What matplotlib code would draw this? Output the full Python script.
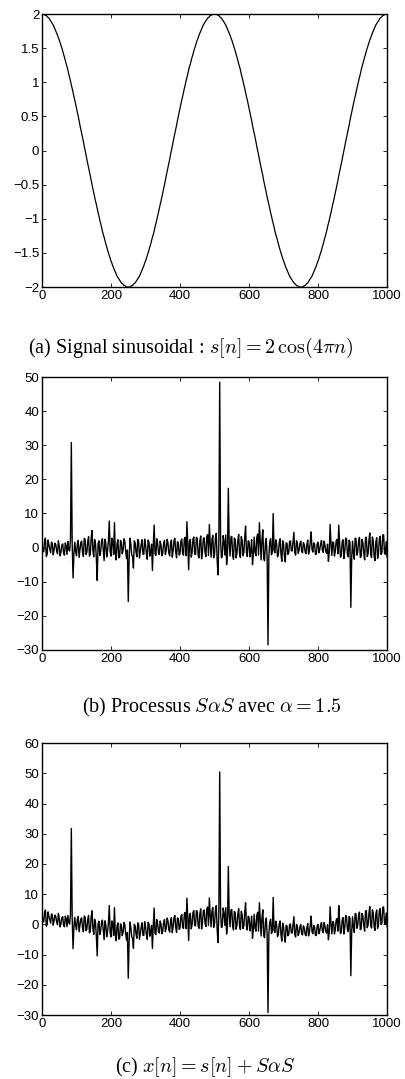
import numpy as np
import matplotlib.pyplot as plt

plt.rcParams['font.family'] = ['Liberation Sans', 'DejaVu Sans']
plt.rcParams['mathtext.fontset'] = 'cm'

# sample index: every 5th sample, plus the in-between samples at +2.5
n_main = np.arange(0, 1001, 5)
n_half = np.arange(2.5, 1000, 5)

# (a) sinusoid s[n] at n_main
s_main = [2.00, 2.00, 1.98, 1.96, 1.94, 1.90, 1.86, 1.81, 1.75, 1.69, 1.62, 1.54, 1.46, 1.37, 1.27, 1.18, 1.07,
          0.96, 0.85, 0.74, 0.62, 0.50, 0.37, 0.25, 0.13, 0.00, -0.13, -0.25, -0.37, -0.50, -0.62, -0.74,
          -0.85, -0.96, -1.07, -1.18, -1.27, -1.37, -1.46, -1.54, -1.62, -1.69, -1.75, -1.81, -1.86, -1.90,
          -1.94, -1.96, -1.98, -2.00, -2.00,
          -2.00, -1.98, -1.96, -1.94, -1.90, -1.86, -1.81, -1.75, -1.69, -1.62, -1.54, -1.46, -1.37, -1.27,
          -1.18, -1.07, -0.96, -0.85, -0.74, -0.62, -0.50, -0.37, -0.25, -0.13, 0.00, 0.13, 0.25, 0.37, 0.50,
          0.62, 0.74, 0.85, 0.96, 1.07, 1.18, 1.27, 1.37, 1.46, 1.54, 1.62, 1.69, 1.75, 1.81, 1.86, 1.90,
          1.94, 1.96, 1.98, 2.00, 2.00,
          2.00, 1.98, 1.96, 1.94, 1.90, 1.86, 1.81, 1.75, 1.69, 1.62, 1.54, 1.46, 1.37, 1.27, 1.18, 1.07,
          0.96, 0.85, 0.74, 0.62, 0.50, 0.37, 0.25, 0.13, 0.00, -0.13, -0.25, -0.37, -0.50, -0.62, -0.74,
          -0.85, -0.96, -1.07, -1.18, -1.27, -1.37, -1.46, -1.54, -1.62, -1.69, -1.75, -1.81, -1.86, -1.90,
          -1.94, -1.96, -1.98, -2.00, -2.00,
          -2.00, -1.98, -1.96, -1.94, -1.90, -1.86, -1.81, -1.75, -1.69, -1.62, -1.54, -1.46, -1.37, -1.27,
          -1.18, -1.07, -0.96, -0.85, -0.74, -0.62, -0.50, -0.37, -0.25, -0.13, 0.00, 0.13, 0.25, 0.37, 0.50,
          0.62, 0.74, 0.85, 0.96, 1.07, 1.18, 1.27, 1.37, 1.46, 1.54, 1.62, 1.69, 1.75, 1.81, 1.86, 1.90,
          1.94, 1.96, 1.98, 2.00, 2.00]

# s[n] at n_half
s_half = [2.00, 1.99, 1.98, 1.95, 1.92, 1.88, 1.84, 1.78, 1.72, 1.65, 1.58, 1.50, 1.41, 1.32, 1.23, 1.12,
          1.02, 0.91, 0.79, 0.68, 0.56, 0.44, 0.31, 0.19, 0.06,
          -0.06, -0.19, -0.31, -0.44, -0.56, -0.68, -0.79, -0.91, -1.02, -1.12, -1.23, -1.32, -1.41, -1.50,
          -1.58, -1.65, -1.72, -1.78, -1.84, -1.88, -1.92, -1.95, -1.98, -1.99, -2.00,
          -2.00, -1.99, -1.98, -1.95, -1.92, -1.88, -1.84, -1.78, -1.72, -1.65, -1.58, -1.50, -1.41, -1.32,
          -1.23, -1.12, -1.02, -0.91, -0.79, -0.68, -0.56, -0.44, -0.31, -0.19, -0.06,
          0.06, 0.19, 0.31, 0.44, 0.56, 0.68, 0.79, 0.91, 1.02, 1.12, 1.23, 1.32, 1.41, 1.50,
          1.58, 1.65, 1.72, 1.78, 1.84, 1.88, 1.92, 1.95, 1.98, 1.99, 2.00,
          2.00, 1.99, 1.98, 1.95, 1.92, 1.88, 1.84, 1.78, 1.72, 1.65, 1.58, 1.50, 1.41, 1.32, 1.23, 1.12,
          1.02, 0.91, 0.79, 0.68, 0.56, 0.44, 0.31, 0.19, 0.06,
          -0.06, -0.19, -0.31, -0.44, -0.56, -0.68, -0.79, -0.91, -1.02, -1.12, -1.23, -1.32, -1.41, -1.50,
          -1.58, -1.65, -1.72, -1.78, -1.84, -1.88, -1.92, -1.95, -1.98, -1.99, -2.00,
          -2.00, -1.99, -1.98, -1.95, -1.92, -1.88, -1.84, -1.78, -1.72, -1.65, -1.58, -1.50, -1.41, -1.32,
          -1.23, -1.12, -1.02, -0.91, -0.79, -0.68, -0.56, -0.44, -0.31, -0.19, -0.06,
          0.06, 0.19, 0.31, 0.44, 0.56, 0.68, 0.79, 0.91, 1.02, 1.12, 1.23, 1.32, 1.41, 1.50,
          1.58, 1.65, 1.72, 1.78, 1.84, 1.88, 1.92, 1.95, 1.98, 1.99, 2.00]

# (b) SaS noise at n_main, estimated from the second panel (spikes included)
noise_main = [1.5, -1.2, 2.8, -2.0, 0.8, -1.5, 1.2, -0.6, 0.9, -1.8,
              0.5, -1.3, 1.1, -2.2, 0.6, 1.8, -1.0, 30.8, -8.9, 1.6,
              -2.4, 2.1, -0.8, 1.9, -2.6, 2.4, -1.4, 3.2, -1.9, 5.0,
              -2.7, 1.3, -9.6, 2.0, -1.1, 2.6, -3.8, 1.2, -0.9, 7.8,
              -2.5, 1.7, 7.3, -3.6, 2.3, -2.8, 1.5, -0.7, 1.9, -3.2,
              -15.8, 2.8, -2.1, -6.0, 1.4, -2.7, 1.9, -1.2, 2.3, -2.0,
              0.8, -3.4, 1.6, -1.1, -6.7, 6.6, -2.3, 1.3, -2.0, 0.7,
              -1.6, 2.1, -0.9, 1.5, -2.4, 2.2, -1.0, 2.7, -3.0, 1.4,
              -1.8, 2.5, -2.2, 3.0, 7.6, -6.5, 2.4, -1.5, 3.1, -2.0,
              2.6, -3.0, 3.4, -1.2, 2.9, -2.6, 3.8, 6.8, -2.8, 3.6,
              -1.9, 4.2, -8.0, 48.5, -3.0, 3.5, -2.2, -5.0, 17.4, -2.5,
              3.3, -3.4, 2.4, -1.7, 3.9, -2.9, 2.2, -1.4, 6.3, -2.6,
              1.8, -0.9, -5.0, 3.1, -2.4, 4.0, 7.3, -3.6, 5.2, -3.9,
              2.7, -28.5, 1.6, -2.1, 10.0, -1.5, 1.2, -2.0, 2.6, -4.0,
              1.1, -4.2, 1.3, -1.6, 2.0, -1.0, 4.5, -2.2, 1.4, -0.8,
              1.9, -1.5, 0.9, -1.8, 2.2, -0.7, 4.6, -1.3, 1.0, -1.9,
              1.6, -0.6, 2.1, -1.4, 0.8, -1.7, -4.0, 6.8, -2.3, 1.5,
              -1.1, 2.4, 6.6, -2.8, 1.7, -3.2, 2.8, -1.9, 2.2, -17.5,
              1.9, -3.4, 2.6, -1.3, 3.0, -2.5, 1.4, -3.6, 3.1, -1.8,
              4.3, -2.9, 2.0, -3.8, 2.9, -2.1, 3.3, -1.6, 3.8, -2.0,
              -2.8]

# SaS noise at n_half
noise_half = [-0.8, 1.9, -2.6, 2.2, -0.4, 1.6, -2.1, 1.3, -1.0, 2.0,
              -2.4, 0.7, -1.6, 1.4, -2.0, -0.5, 2.2, 1.1, -1.7, -1.1,
              1.2, -2.9, 1.5, -1.3, 2.7, -2.0, 1.8, -2.5, 2.9, -0.9,
              2.4, -3.1, 1.1, -2.3, 1.7, -0.6, 2.5, -2.7, 1.9, -1.2,
              2.8, -2.0, -1.5, 1.2, -3.0, 2.1, -1.8, 2.6, -1.1, -0.7,
              -3.5, 1.0, -2.6, 2.0, -1.4, 2.4, -3.1, 0.9, -1.9, 2.5,
              -1.7, 2.2, -2.5, 1.0, 0.8, -1.8, 2.6, -1.5, 1.9, -2.4,
              1.3, -2.0, 2.4, -1.6, 1.1, -2.8, 2.0, -1.3, 1.7, -2.2,
              1.9, -1.6, 2.6, -2.4, 1.0, 1.8, -2.8, 2.5, -1.9, 3.0,
              -2.2, 2.0, -3.3, 2.6, -1.5, 3.3, -2.3, 1.2, 2.4, -3.0,
              2.7, -3.4, 1.5, 2.0, -2.6, 1.8, 3.7, -2.0, 1.4, 3.1,
              -2.1, 2.8, -3.0, 2.1, -1.8, 3.2, -2.4, 2.9, -1.5, 2.0,
              -2.7, 2.3, -1.9, -1.4, 3.0, -2.2, 1.6, 2.5, -3.2, 1.4,
              -3.0, -2.4, 2.6, -1.2, -0.8, 2.3, -2.7, 1.5, -1.9, 2.0,
              -2.6, 1.4, -2.0, 1.8, -0.9, 1.6, -1.4, 2.0, -1.7, 1.2,
              -1.1, 1.5, -1.3, 0.8, -1.9, 1.7, -0.6, 1.4, -2.0, 1.1,
              -1.5, 1.2, -0.8, 1.9, -1.2, 1.0, -1.6, 1.2, 1.7, -2.5,
              2.0, -1.8, 1.4, -2.2, 2.3, -1.0, 2.5, -2.7, 1.6, -3.0,
              -1.6, 2.8, -2.2, 1.9, -2.9, 2.4, -1.7, 2.9, -2.6, 2.2,
              -1.9, 3.1, -2.6, 1.7, -3.2, 2.5, -2.0, 3.6, -1.4, 1.8]

n_all = np.concatenate([n_main, n_half])
order = np.argsort(n_all)
n = n_all[order]
s = np.concatenate([s_main, s_half])[order]
noise = np.concatenate([noise_main, noise_half])[order]
x = s + noise  # (c) x[n] = s[n] + SaS

panels = [
    (s, [-2, 2], np.arange(-2, 2.01, 0.5), ['\u22122', '\u22121.5', '\u22121', '\u22120.5', '0', '0.5', '1', '1.5', '2'],
     r'(a) Signal sinusoidal : $s[n] = 2\,\cos(4\pi n)$', 0.472, 0.678),
    (noise, [-30, 50], np.arange(-30, 51, 10), None,
     r'(b) Processus $S\alpha S$ avec $\alpha = 1.5$', 0.523, 0.344),
    (x, [-30, 60], np.arange(-30, 61, 10), None,
     r'(c) $x[n] = s[n] + S\alpha S$', 0.506, 0.011),
]
boxes = [[0.1037, 0.734, 0.852, 0.253],
         [0.1037, 0.3976, 0.852, 0.253],
         [0.1037, 0.0593, 0.852, 0.252]]

fig = plt.figure(figsize=(4.05, 10.79), dpi=100)

for (vals, ylim, yt, ylab, cap, cx, cy), box in zip(panels, boxes):
    ax = fig.add_axes(box)
    ax.plot(n, vals, color='black', lw=0.9 if ylab else 1.0)
    ax.set_xlim(0, 1000)
    ax.set_ylim(*ylim)
    ax.set_xticks(np.arange(0, 1001, 200))
    ax.set_yticks(yt)
    if ylab:
        ax.set_yticklabels(ylab)
    ax.tick_params(direction='in', length=3, width=0.6, top=True, right=True,
                   labelsize=9.5, pad=2)
    for sp in ax.spines.values():
        sp.set_linewidth(1.0)
    fig.text(cx, cy, cap, ha='center', va='center', fontsize=14.5,
             family=['Liberation Serif', 'DejaVu Serif'])

fig.savefig('out.png', dpi=100)
